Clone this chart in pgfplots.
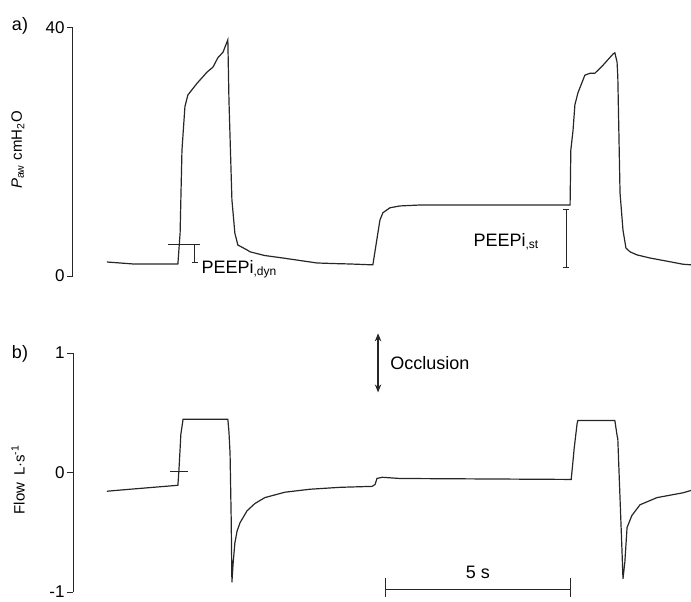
\documentclass[border=0pt]{standalone}
\usepackage{fontspec}
\setmainfont{Liberation Sans}
\usepackage{pgfplots}
\pgfplotsset{compat=1.18}
\usepackage{pgfplotstable}
\usetikzlibrary{arrows.meta}

% Airway pressure (cmH2O) against time (s)
\pgfplotstableread{
t p
0.05 2.26
0.76 1.94
1.97 1.94
2.03 6.94
2.08 20.3
2.16 27.3
2.24 29.2
2.49 31.1
2.76 32.9
2.92 33.7
3.05 35.2
3.19 36.1
3.32 38.1
3.35 28.4
3.43 12.3
3.51 6.9
3.59 5.0
3.84 4.2
3.92 3.9
4.32 3.3
4.81 2.9
5.27 2.5
5.73 2.1
6.22 2.0
6.62 1.94
7.22 1.8
7.24 1.8
7.43 9.0
7.51 10.2
7.70 11.0
7.97 11.3
8.51 11.45
12.57 11.45
12.59 20.3
12.65 23.5
12.70 27.6
12.78 29.5
12.97 32.4
13.11 32.7
13.24 32.7
13.46 34.0
13.73 35.8
13.78 36.0
13.84 34.5
13.86 32.1
13.92 13.4
14.00 7.4
14.08 4.5
14.19 3.9
14.38 3.4
14.73 2.9
15.27 2.3
15.62 1.9
15.84 1.8
}\pressure

% Flow (L/s) against time (s)
\pgfplotstableread{
t f
0.05 -0.157
0.30 -0.15
0.68 -0.14
1.97 -0.107
2.00 0.03
2.03 0.20
2.05 0.32
2.11 0.446
3.32 0.446
3.35 0.34
3.38 0.16
3.41 -0.38
3.43 -0.92
3.46 -0.77
3.51 -0.59
3.57 -0.49
3.65 -0.42
3.84 -0.32
4.05 -0.26
4.32 -0.21
4.86 -0.165
5.54 -0.14
6.35 -0.124
7.22 -0.116
7.30 -0.10
7.35 -0.05
7.49 -0.04
7.97 -0.05
12.57 -0.058
12.60 -0.058
12.65 0.10
12.68 0.20
12.76 0.41
12.78 0.435
13.78 0.435
13.84 0.31
13.86 0.28
13.89 0.03
13.97 -0.63
14.00 -0.89
14.05 -0.75
14.11 -0.46
14.24 -0.36
14.46 -0.27
14.92 -0.21
15.62 -0.17
15.84 -0.15
}\flow

\pgfplotsset{
  trace/.style={
    scale only axis, width=309pt, clip=false,
    xmin=-0.865, xmax=15.838,
    axis x line=none, axis y line*=left,
    xtick=\empty,
    tick align=outside, major tick length=3pt,
    axis line style={line width=0.5pt, black!85},
    every tick/.style={line width=0.5pt, black!85},
    /pgf/number format/assume math mode=true,
    yticklabel style={font=\fontsize{8.5}{9.5}\selectfont, inner sep=1pt},
    ylabel style={font=\fontsize{7.5}{9}\selectfont, anchor=center},
  },
  wave/.style={line width=0.6pt, black!85},
}

\begin{document}
\begin{tikzpicture}
\useasboundingbox (0,0) rectangle (345.5pt,300.5pt);

% a) airway pressure
\begin{axis}[trace, at={(36.5pt,162.5pt)}, anchor=south west,
  height=124pt, ymin=0, ymax=40, ytick={0,40},
  ylabel={\textit{P}\textsubscript{aw} cmH\textsubscript{2}O},
  ylabel style={at={(axis description cs:-0.089,0.508)}}]
  \addplot[wave] table[x=t, y=p] {\pressure};
  % dynamic intrinsic PEEP
  \draw[line width=0.5pt, black!85] (axis cs:1.70,5.16) -- (axis cs:2.57,5.16);
  \draw[line width=0.5pt, black!85] (axis cs:2.43,5.16) -- (axis cs:2.43,2.1)
    (axis cs:2.35,5.16) -- (axis cs:2.51,5.16)
    (axis cs:2.35,2.1) -- (axis cs:2.51,2.1);
  \node[anchor=base west, inner sep=0pt, font=\fontsize{9}{10}\selectfont]
    at (axis cs:2.60,0.48) {PEEPi\textsubscript{,dyn}};
  % static intrinsic PEEP
  \draw[line width=0.5pt, black!85] (axis cs:12.46,10.65) -- (axis cs:12.46,1.45)
    (axis cs:12.38,10.65) -- (axis cs:12.54,10.65)
    (axis cs:12.38,1.45) -- (axis cs:12.54,1.45);
  \node[anchor=base west, inner sep=0pt, font=\fontsize{9}{10}\selectfont]
    at (axis cs:9.95,4.68) {PEEPi\textsubscript{,st}};
\end{axis}

% b) flow
\begin{axis}[trace, at={(36.5pt,4.5pt)}, anchor=south west,
  height=119.5pt, ymin=-1, ymax=1, ytick={-1,0,1},
  ylabel={Flow\, L·s\textsuperscript{-1}},
  ylabel style={at={(axis description cs:-0.089,0.471)}}]
  \addplot[wave] table[x=t, y=f] {\flow};
  % zero-flow marker
  \draw[line width=0.5pt, black!85] (axis cs:1.76,0.01) -- (axis cs:2.24,0.01);
  % occlusion
  \draw[line width=0.6pt, black!85, {Stealth[length=4pt,width=3.2pt]}-{Stealth[length=4pt,width=3.2pt]}]
    (axis cs:7.38,1.165) -- (axis cs:7.38,0.67);
  \node[anchor=base west, inner sep=0pt, font=\fontsize{9}{10}\selectfont]
    at (axis cs:7.70,0.86) {Occlusion};
  % time scale bar
  \draw[line width=0.5pt, black!85] (axis cs:7.57,-0.975) -- (axis cs:12.57,-0.975)
    (axis cs:7.57,-0.884) -- (axis cs:7.57,-1.04)
    (axis cs:12.57,-0.884) -- (axis cs:12.57,-1.04);
  \node[anchor=base, inner sep=0pt, font=\fontsize{9}{10}\selectfont]
    at (axis cs:10.08,-0.884) {5 s};
\end{axis}

\node[font=\fontsize{9}{10}\selectfont] at (10pt,287.5pt) {a)};
\node[font=\fontsize{9}{10}\selectfont] at (10pt,123.5pt) {b)};
\end{tikzpicture}
\end{document}
